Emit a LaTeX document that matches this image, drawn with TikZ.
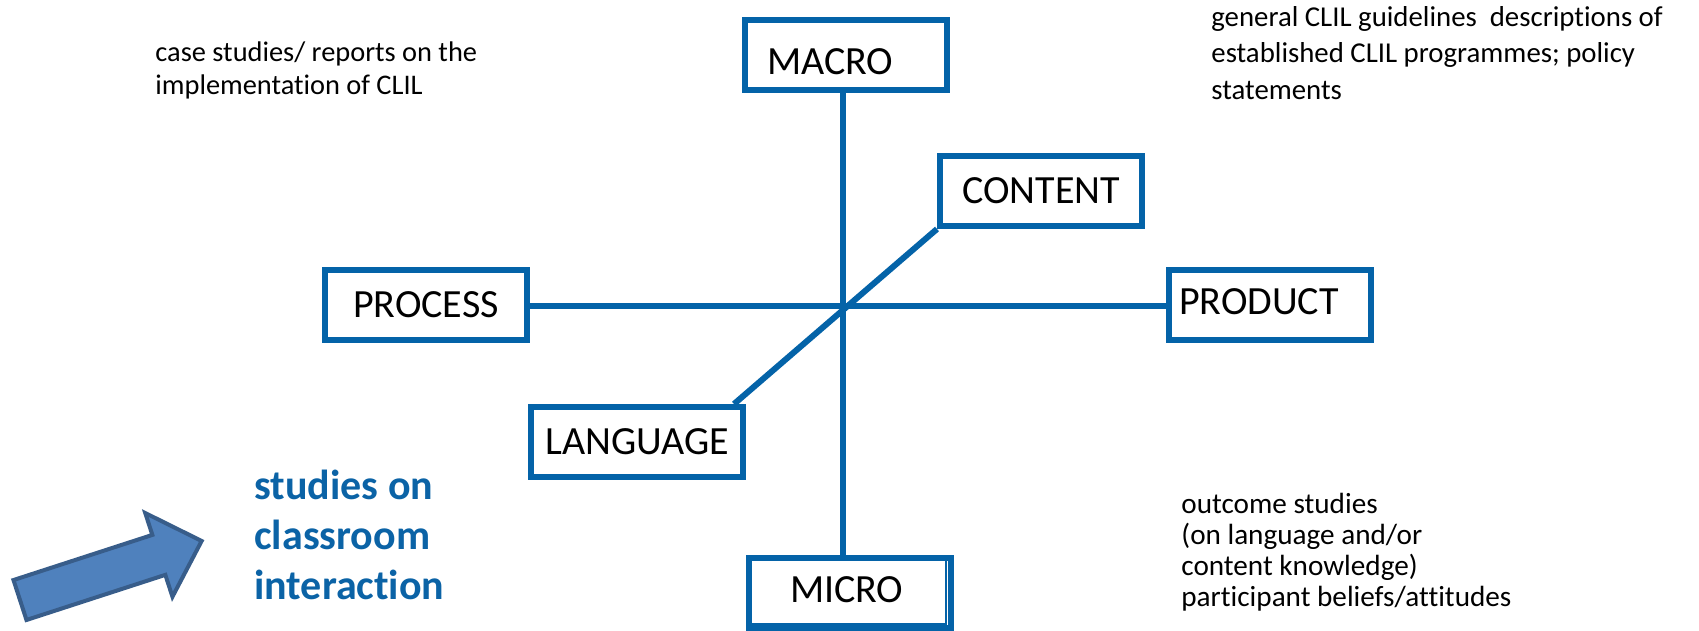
\documentclass[tikz,border=0pt]{standalone}
\usepackage{fontspec}
\setmainfont{Carlito}[Ligatures=NoCommon]
\usepackage{tikz}
\usepackage{xcolor}
\usetikzlibrary{positioning}
\definecolor{Axis}{HTML}{0463A8}
\definecolor{Note}{HTML}{0B63A6}
\definecolor{ArrowFill}{HTML}{4F81BD}
\definecolor{ArrowEdge}{HTML}{385D8A}

\begin{document}
\begin{tikzpicture}[x=0.5pt, y=-0.5pt,
    dim/.style={draw=Axis, line width=3pt, fill=white, minimum width=101pt, minimum height=35pt, inner sep=0pt, align=center, font=\fontsize{20pt}{23pt}\selectfont},
    axis/.style={draw=Axis, line width=3pt},
    note/.style={anchor=north west, align=left, inner sep=0pt, font=\fontsize{14.2pt}{16.5pt}\selectfont},
    pointer/.style={fill=ArrowFill, draw=ArrowEdge, line width=2pt, line join=miter}
]
\fill[white] (0,0) rectangle (1699,631);
\useasboundingbox (0,0) rectangle (1699,631);

% Dimensions
\coordinate (hub) at (843,306);
\node[dim, text width=79pt, align=left, text height=19.3pt] (macro) at (846,55) {MACRO};
\node[dim] (content) at (1041,191) {CONTENT};
\node[dim] (process) at (426,305) {PROCESS};
\node[dim, text width=91pt, align=left, text depth=3pt] (product) at (1270,305) {PRODUCT};
\node[dim, minimum width=106pt] (language) at (637,442) {LANGUAGE};
\node[dim, text width=60pt, align=left, text depth=3pt] (micro) at (850,593) {MICRO};
\draw[draw=Axis, line width=1pt] ([xshift=-4pt, yshift=-1.5pt]micro.north east) |- ([xshift=1.5pt, yshift=3.5pt]micro.south west);

\draw[axis] (macro.south -| hub) -- (micro.north -| hub);
\draw[axis] (process.east |- hub) -- (product.west |- hub);
\draw[axis] (content.south west) -- ([xshift=-6pt]language.north east);

% Research types
\node[note] (casestudies) at (155,41) {case studies/ reports on the\\implementation of CLIL};
\node[note, font=\fontsize{14.4pt}{18.25pt}\selectfont] (guidelines) at (1211,6) {general CLIL guidelines~ descriptions of\\established CLIL programmes; policy\\statements};
\node[note, font=\fontsize{14.6pt}{15.4pt}\selectfont] (outcome) at (1181,493) {outcome studies\\(on language and/or\\content knowledge)\\participant beliefs/attitudes};
\node[note, font=\fontsize{21pt}{25pt}\selectfont\bfseries, text=Note] (classroom) at (254,470) {studies on\\classroom\\interaction};

% Pointer
\begin{scope}[shift={(20,600)}, rotate=18]
  \draw[pointer] (0,-21) -- (146,-21) -- (146,-44) -- (191,0) -- (146,44) -- (146,21) -- (0,21) -- cycle;
\end{scope}

\end{tikzpicture}
\end{document}
